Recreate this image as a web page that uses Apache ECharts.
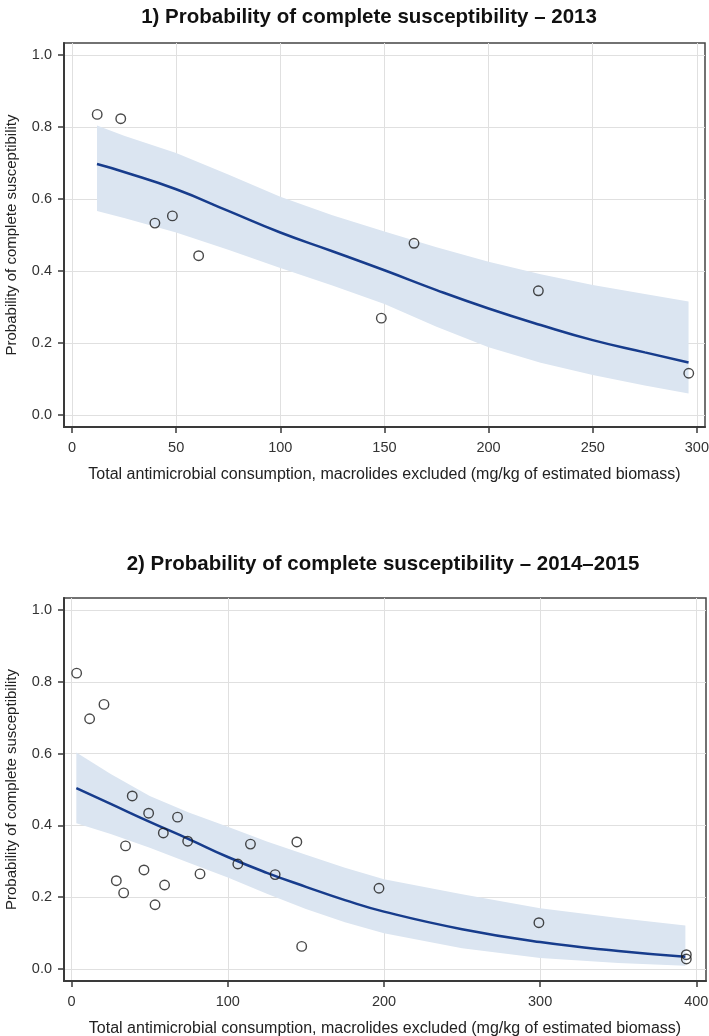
<!DOCTYPE html>
<html><head><meta charset="utf-8">
<script src="https://cdn.jsdelivr.net/npm/echarts@6/dist/echarts.min.js"></script>
<style>html,body{margin:0;padding:0;background:#fff}#c{width:709px;height:1036px}</style>
</head><body><div id="c"></div>
<script>
const title2013 = '1) Probability of complete susceptibility \u2013 2013';
const title2015 = '2) Probability of complete susceptibility \u2013 2014\u20132015';
const xAxisName = 'Total antimicrobial consumption, macrolides excluded (mg/kg of estimated biomass)';
const yAxisName = 'Probability of complete susceptibility';

const xTicks2013 = [0, 50, 100, 150, 200, 250, 300];
const xTicks2015 = [0, 100, 200, 300, 400];
const yTicks = [0, 0.2, 0.4, 0.6, 0.8, 1.0];

// 2013 observed points
const obsX2013 = [12.1, 23.4, 39.8, 48.2, 60.8, 148.5, 164.2, 223.9, 296.1];
const obsY2013 = [0.835, 0.823, 0.533, 0.553, 0.4425, 0.269, 0.477, 0.345, 0.116];
// 2013 fitted curve and confidence band
const fitX2013 = [12, 25, 50, 75, 100, 125, 150, 175, 200, 225, 250, 275, 296];
const fit2013 = [0.697, 0.675, 0.627, 0.567, 0.507, 0.455, 0.402, 0.347, 0.296, 0.25, 0.208, 0.174, 0.146];
const upper2013 = [0.804, 0.776, 0.728, 0.668, 0.606, 0.555, 0.51, 0.466, 0.426, 0.391, 0.361, 0.336, 0.315];
const lower2013 = [0.567, 0.547, 0.507, 0.459, 0.408, 0.36, 0.308, 0.245, 0.188, 0.145, 0.111, 0.082, 0.060];

// 2014-2015 observed points
const obsX2015 = [3.2, 11.5, 20.7, 28.6, 33.3, 34.5, 38.8, 46.3, 49.3, 53.4, 58.7, 59.5, 67.8, 74.3, 82.2, 106.4, 114.5, 130.3, 144.2, 147.3, 196.8, 299.2, 393.6, 393.6];
const obsY2015 = [0.824, 0.697, 0.737, 0.246, 0.212, 0.343, 0.482, 0.276, 0.434, 0.179, 0.379, 0.234, 0.423, 0.356, 0.265, 0.2925, 0.348, 0.263, 0.354, 0.063, 0.225, 0.129, 0.040, 0.028];
// 2014-2015 fitted curve and confidence band
const fitX2015 = [3, 25, 50, 75, 100, 125, 150, 175, 200, 250, 300, 350, 393];
const fit2015 = [0.504, 0.46, 0.41, 0.362, 0.312, 0.268, 0.229, 0.192, 0.16, 0.111, 0.075, 0.05, 0.034];
const upper2015 = [0.603, 0.543, 0.482, 0.436, 0.396, 0.355, 0.318, 0.282, 0.25, 0.208, 0.169, 0.142, 0.121];
const lower2015 = [0.406, 0.376, 0.338, 0.296, 0.255, 0.21, 0.167, 0.13, 0.10, 0.058, 0.031, 0.017, 0.009];

const FONT = "'Liberation Sans', Arial, sans-serif";
const TXT = '#333';
const GRIDC = '#e0e0e0';
const BAND = '#dbe5f1';
const LINE = '#173c8c';

function zip(a, b) { return a.map((v, i) => [v, b[i]]); }

function xAxis(gi, min, max, ticks) {
  return {
    type: 'value', gridIndex: gi, min: min, max: max,
    name: xAxisName, nameLocation: 'middle', nameGap: 40,
    nameTextStyle: { fontFamily: FONT, fontSize: 16, color: '#222' },
    axisLine: { show: true, onZero: false, lineStyle: { color: '#3a3a3a', width: 2 } },
    axisTick: { show: true, length: 6, lineStyle: { color: '#3a3a3a', width: 1.5 }, customValues: ticks },
    axisLabel: { customValues: ticks, margin: 13, fontFamily: FONT, fontSize: 14.5, color: TXT },
    splitLine: { show: true, lineStyle: { color: GRIDC, width: 1 } }
  };
}
function yAxis(gi) {
  return {
    type: 'value', gridIndex: gi, min: -0.0333, max: 1.0333,
    name: yAxisName, nameLocation: 'middle', nameGap: 45,
    nameTextStyle: { fontFamily: FONT, fontSize: 15, color: '#222' },
    axisLine: { show: true, onZero: false, lineStyle: { color: '#3a3a3a', width: 2 } },
    axisTick: { show: true, length: 6, lineStyle: { color: '#3a3a3a', width: 1.5 }, customValues: yTicks },
    axisLabel: { customValues: yTicks, margin: 12, fontFamily: FONT, fontSize: 14.5, color: TXT,
      formatter: v => Number(v).toFixed(1) },
    splitLine: { show: true, lineStyle: { color: GRIDC, width: 1 } }
  };
}
function band(i, xs, lo, hi) {
  return {
    type: 'custom', xAxisIndex: i, yAxisIndex: i, silent: true, z: 1,
    data: [[xs[0], lo[0]]],
    renderItem: function (params, api) {
      const pts = [];
      for (let k = 0; k < xs.length; k++) pts.push(api.coord([xs[k], hi[k]]));
      for (let k = xs.length - 1; k >= 0; k--) pts.push(api.coord([xs[k], lo[k]]));
      return { type: 'polygon', shape: { points: pts }, style: { fill: BAND } };
    }
  };
}
function fit(i, xs, ys) {
  return { type: 'line', xAxisIndex: i, yAxisIndex: i, data: zip(xs, ys), smooth: true,
    symbol: 'none', lineStyle: { color: LINE, width: 2.5 }, z: 3, silent: true };
}
function obs(i, xs, ys) {
  return { type: 'scatter', xAxisIndex: i, yAxisIndex: i, data: zip(xs, ys), symbol: 'circle',
    symbolSize: 9.5, itemStyle: { color: 'rgba(0,0,0,0)', borderColor: '#1a1a1a', borderWidth: 1.4 }, z: 4, silent: true };
}

const chart = echarts.init(document.getElementById('c'), null, { renderer: 'canvas' });
chart.setOption({
  animation: false,
  backgroundColor: '#fff',
  title: [
    { text: title2013, left: 364, top: 2, textAlign: 'center',
      textStyle: { fontFamily: FONT, fontSize: 20.5, fontWeight: 'bold', color: '#111' } },
    { text: title2015, left: 378, top: 549, textAlign: 'center',
      textStyle: { fontFamily: FONT, fontSize: 20.5, fontWeight: 'bold', color: '#111' } }
  ],
  grid: [
    { left: 64, top: 43, width: 641, height: 384, show: true, borderColor: '#444', borderWidth: 1.5,
      containLabel: false, outerBoundsMode: 'none' },
    { left: 64, top: 598, width: 642, height: 383, show: true, borderColor: '#444', borderWidth: 1.5,
      containLabel: false, outerBoundsMode: 'none' }
  ],
  xAxis: [ xAxis(0, -3.84, 303.9, xTicks2013), xAxis(1, -4.9, 406.2, xTicks2015) ],
  yAxis: [ yAxis(0), yAxis(1) ],
  series: [
    band(0, fitX2013, lower2013, upper2013), fit(0, fitX2013, fit2013), obs(0, obsX2013, obsY2013),
    band(1, fitX2015, lower2015, upper2015), fit(1, fitX2015, fit2015), obs(1, obsX2015, obsY2015)
  ]
});
</script></body></html>
